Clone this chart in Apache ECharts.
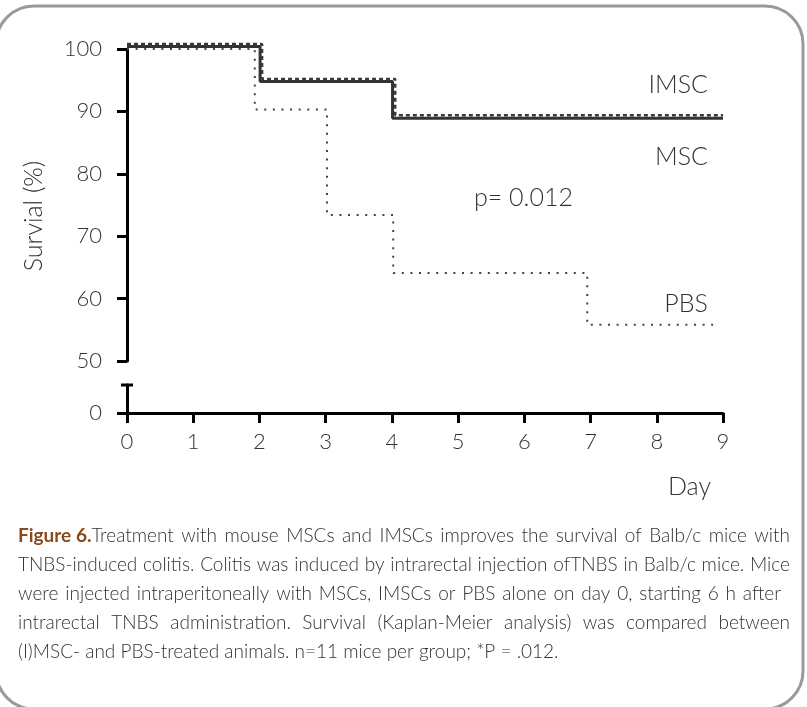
<!DOCTYPE html>
<html>
<head>
<meta charset="utf-8">
<script src="https://cdn.jsdelivr.net/npm/echarts@6/dist/echarts.min.js"></script>
<style>html,body{margin:0;padding:0;background:#fff;}#c{width:807px;height:707px;}</style>
</head>
<body>
<div id="c"></div>
<script>
// ---- data ----
const imscDays = [0, 2.04, 4.05, 9];
const imscSurvival = [100.8, 95.2, 89.4, 89.4];
const mscDays = [0, 2.01, 4.01, 9];
const mscSurvival = [100.4, 94.8, 88.9, 88.9];
const pbsDays = [0, 1.93, 3.02, 4.02, 6.95, 8.85];
const pbsSurvival = [100, 90.3, 73.4, 64.1, 55.8, 55.8];
const yTicksUpper = [50, 60, 70, 80, 90, 100];
const yTicksLower = [0];
const xTicks = [0, 1, 2, 3, 4, 5, 6, 7, 8, 9];
const seriesNames = ['IMSC', 'MSC', 'PBS'];
const pValueText = 'p= 0.012';
const yAxisTitle = 'Survial (%)';
const xAxisTitle = 'Day';
const captionLabel = 'Figure 6.';
const captionLines = [
  'Treatment with mouse MSCs and IMSCs improves the survival of Balb/c mice with',
  'TNBS-induced colitis. Colitis was induced by intrarectal injection ofTNBS in Balb/c mice. Mice',
  'were injected intraperitoneally with MSCs, IMSCs or PBS alone on day 0, starting 6 h after',
  'intrarectal TNBS administration. Survival (Kaplan-Meier analysis) was compared between',
  '(I)MSC- and PBS-treated animals. n=11 mice per group; *P = .012.'
];

const FONT = 'Lato, "Open Sans", sans-serif';
const TXT = '#333';

function pairs(xs, ys) { return xs.map((x, i) => [x, ys[i]]); }

// ---- caption layout (justified) ----
const cv = document.createElement('canvas').getContext('2d');
function tw(t, f) { cv.font = f; return cv.measureText(t).width; }
const capSize = 19;
const capFont = '300 ' + capSize + 'px ' + FONT;
const capBold = 'bold ' + capSize + 'px ' + FONT;
const capLeft = 18;
const capRights = [790, 790, 781, 790, null];
const capY = [536, 565, 594, 623, 652];
const captionEls = [];
captionLines.forEach((line, li) => {
  const words = line.split(' ');
  let prefixW = 0;
  if (li === 0) {
    prefixW = tw(captionLabel, capBold);
    captionEls.push({type: 'text', x: capLeft, y: capY[li], style: {text: captionLabel, font: capBold, fill: '#8a4a1e', textVerticalAlign: 'middle'}});
  }
  const widths = words.map(w => tw(w, capFont));
  const sum = widths.reduce((a, b) => a + b, 0) + prefixW;
  let gap = tw(' ', capFont);
  if (capRights[li] !== null && words.length > 1) {
    gap = Math.max(gap * 0.8, (capRights[li] - capLeft - sum) / (words.length - 1));
  }
  let x = capLeft + prefixW;
  words.forEach((w, i) => {
    captionEls.push({type: 'text', x: x, y: capY[li], style: {text: w, font: capFont, fill: TXT, textVerticalAlign: 'middle'}});
    x += widths[i] + gap;
  });
});

const chart = echarts.init(document.getElementById('c'), null, {renderer: 'canvas'});
const axisBlack = {show: true, lineStyle: {color: '#000', width: 3}};
const labelStyle = {fontFamily: FONT, fontWeight: 300, fontSize: 22, color: TXT};
const annFont = '300 25px ' + FONT;

chart.setOption({
  animation: false,
  backgroundColor: '#fff',
  grid: [
    {left: 127, top: 49, width: 596, height: 312},
    {left: 127, top: 385, width: 596, height: 28}
  ],
  xAxis: [
    {gridIndex: 0, type: 'value', min: 0, max: 9, show: false},
    {gridIndex: 1, type: 'value', min: 0, max: 9, interval: 1,
     axisLine: axisBlack,
     axisTick: {show: true, length: 10, lineStyle: {color: '#000', width: 3}},
     axisLabel: Object.assign({margin: 18, customValues: xTicks}, labelStyle),
     splitLine: {show: false}}
  ],
  yAxis: [
    {gridIndex: 0, type: 'value', min: 50, max: 100, interval: 10,
     axisLine: axisBlack,
     axisTick: {show: true, length: 10, lineStyle: {color: '#000', width: 3}, customValues: yTicksUpper},
     axisLabel: Object.assign({margin: 25, customValues: yTicksUpper}, labelStyle),
     splitLine: {show: false}},
    {gridIndex: 1, type: 'value', min: 0, max: 10, interval: 10,
     axisLine: {show: true, lineStyle: {color: '#000', width: 3}, symbol: ['none', 'rect'], symbolSize: [12, 3]},
     axisTick: {show: true, length: 10, lineStyle: {color: '#000', width: 3}, customValues: yTicksLower},
     axisLabel: Object.assign({margin: 25, customValues: yTicksLower}, labelStyle),
     splitLine: {show: false}}
  ],
  series: [
    {name: seriesNames[1], type: 'line', xAxisIndex: 0, yAxisIndex: 0, step: 'end', showSymbol: false, clip: false,
     data: pairs(mscDays, mscSurvival), lineStyle: {color: '#333', width: 3, type: 'solid'}},
    {name: seriesNames[0], type: 'line', xAxisIndex: 0, yAxisIndex: 0, step: 'end', showSymbol: false, clip: false,
     data: pairs(imscDays, imscSurvival), lineStyle: {color: '#3a3a3a', width: 2.5, type: [4, 3]}},
    {name: seriesNames[2], type: 'line', xAxisIndex: 0, yAxisIndex: 0, step: 'end', showSymbol: false, clip: false,
     data: pairs(pbsDays, pbsSurvival), lineStyle: {color: '#444', width: 2, type: [2, 6.6]}}
  ],
  graphic: [
    {type: 'rect', shape: {x: -4, y: 6, width: 807, height: 703, r: 38}, style: {fill: 'none', stroke: '#9a9a9a', lineWidth: 3}, z: 100},
    {type: 'text', x: 34, y: 216, rotation: Math.PI / 2, style: {text: yAxisTitle, font: annFont, fill: TXT, textAlign: 'center', textVerticalAlign: 'middle'}},
    {type: 'text', x: 708, y: 85, style: {text: seriesNames[0], font: annFont, fill: TXT, textAlign: 'right', textVerticalAlign: 'middle'}},
    {type: 'text', x: 708, y: 157, style: {text: seriesNames[1], font: annFont, fill: TXT, textAlign: 'right', textVerticalAlign: 'middle'}},
    {type: 'text', x: 708, y: 304, style: {text: seriesNames[2], font: annFont, fill: TXT, textAlign: 'right', textVerticalAlign: 'middle'}},
    {type: 'text', x: 474, y: 198, style: {text: pValueText, font: annFont, fill: TXT, textAlign: 'left', textVerticalAlign: 'middle'}},
    {type: 'text', x: 711, y: 487, style: {text: xAxisTitle, font: annFont, fill: TXT, textAlign: 'right', textVerticalAlign: 'middle'}}
  ].concat(captionEls)
});
</script>
</body>
</html>
